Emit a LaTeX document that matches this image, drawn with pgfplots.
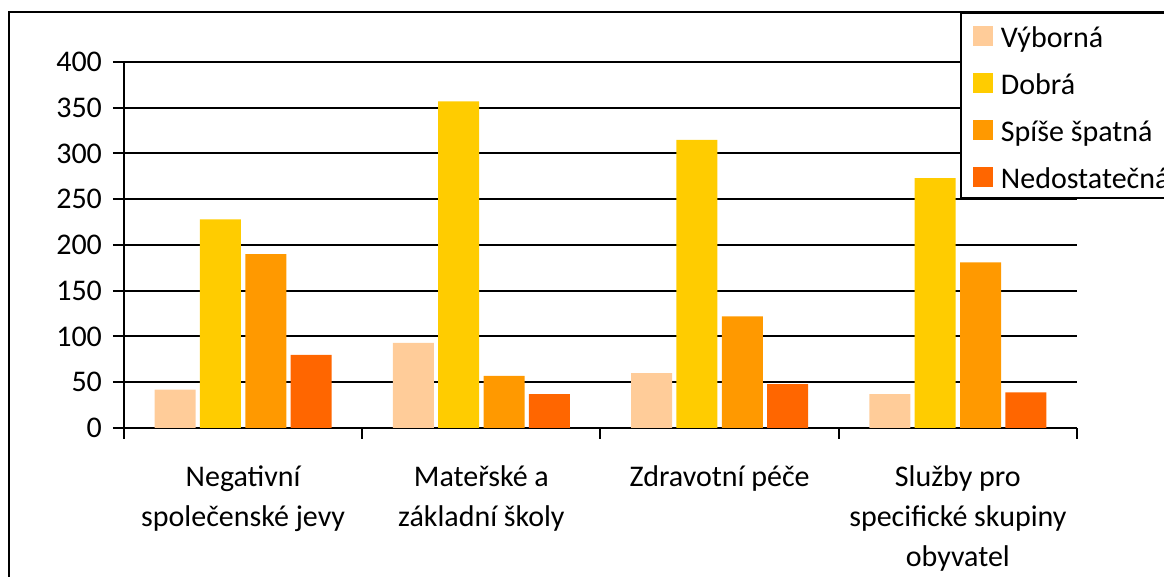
\documentclass[border=0pt]{standalone}
\usepackage{fontspec}
\setmainfont{Carlito}
\usepackage{pgfplots}
\pgfplotsset{compat=1.18}
\definecolor{cA}{HTML}{FFCC99}
\definecolor{cB}{HTML}{FFCC00}
\definecolor{cC}{HTML}{FF9900}
\definecolor{cD}{HTML}{FF6600}
\begin{document}
\begin{tikzpicture}
\draw[line width=1pt] (4.5pt,282.5pt) rectangle (620pt,-20pt);
\begin{axis}[
  at={(62pt,74.5pt)}, anchor=south west,
  scale only axis, width=476.5pt, height=183pt,
  xmin=-0.5, xmax=3.5, ymin=0, ymax=400,
  axis x line=bottom, axis y line=left,
  axis line style={-, line width=1pt, black},
  ybar=2.17pt, bar width=20.5pt,
  xtick={-0.5,0.5,1.5,2.5,3.5},
  x tick label as interval,
  xticklabels={{Negativní\\společenské jevy},{Mateřské a\\základní školy},{Zdravotní péče},{Služby pro\\specifické skupiny\\obyvatel}},
  ytick={0,50,...,400},
  major tick length=5.5pt,
  tick align=outside,
  tick style={black, line width=1pt},
  ymajorgrids, major grid style={black, line width=1pt},
  font=\fontsize{15}{20}\selectfont,
  /pgf/number format/assume math mode=true,
  yticklabel style={font=\fontsize{15}{20}\selectfont, xshift=-2pt},
  xticklabel style={align=center, font=\fontsize{15}{20}\selectfont, yshift=-10pt},
  legend style={at={(0.8772,1.1366)}, anchor=north west, draw=black, line width=1pt, fill=white,
    inner xsep=6pt, inner ysep=3.55pt, row sep=8.5pt, column sep=4pt,
    font=\fontsize{15}{18}\selectfont,
    nodes={inner sep=0pt, text height=13.5pt, text depth=1.5pt}},
  legend cell align=left,
  legend image code/.code={\fill[#1,draw=none] (0pt,-5.25pt) rectangle (10pt,4.75pt);},
]
\addplot[fill=cA, draw=none] coordinates {(0,42) (1,93) (2,60) (3,37)};
\addplot[fill=cB, draw=none] coordinates {(0,228) (1,357) (2,315) (3,273)};
\addplot[fill=cC, draw=none] coordinates {(0,190) (1,57) (2,122) (3,181)};
\addplot[fill=cD, draw=none] coordinates {(0,80) (1,37) (2,48) (3,39)};
\legend{Výborná,Dobrá,Spíše špatná,Nedostatečná}
\end{axis}
\pgfresetboundingbox
\useasboundingbox (0,0) rectangle (582pt,288.5pt);
\end{tikzpicture}
\end{document}
